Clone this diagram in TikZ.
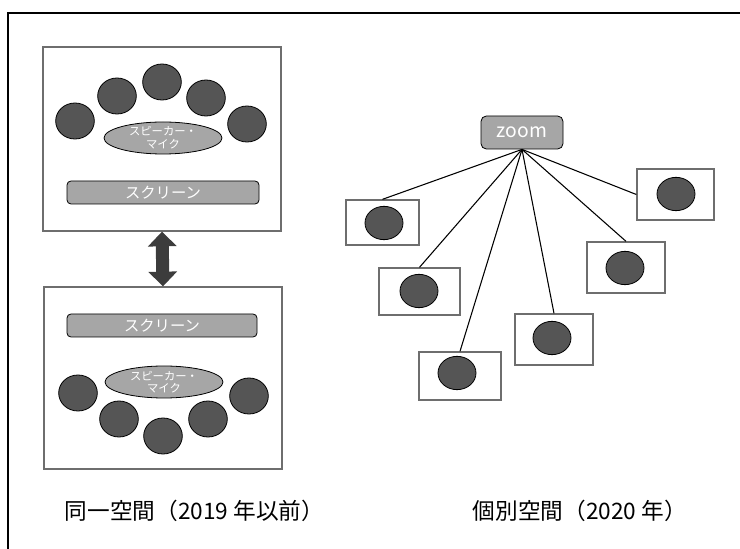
\documentclass[tikz,border=0pt]{standalone}
\usepackage{fontspec}
\setmainfont{Noto Sans CJK JP}
\usepackage{tikz}
\usetikzlibrary{arrows.meta,shapes.geometric}
\definecolor{seatgray}{RGB}{85,85,85}
\definecolor{propgray}{RGB}{166,166,166}
\definecolor{roomgray}{RGB}{110,110,110}
\definecolor{arrowgray}{RGB}{60,60,60}

\begin{document}
\begin{tikzpicture}[x=0.75pt,y=-0.75pt,
  room/.style={draw=roomgray, line width=1pt, inner sep=0pt},
  seat/.style={ellipse, draw=black, fill=seatgray, line width=0.6pt,
    minimum width=29pt, minimum height=27pt, inner sep=0pt},
  cam/.style={ellipse, draw=black, fill=seatgray, line width=0.6pt,
    minimum width=28.5pt, minimum height=25pt, inner sep=0pt},
  speaker/.style={ellipse, draw=black, fill=propgray, line width=0.6pt,
    minimum width=88.5pt, minimum height=24pt, inner sep=0pt,
    text=white, font=\fontsize{8.5}{9.5}\selectfont, align=center},
  screen/.style={draw=black, fill=propgray, rounded corners=3pt, line width=0.6pt,
    minimum height=17.25pt, inner sep=0pt, text=white, font=\fontsize{11.5}{13}\selectfont},
  label/.style={anchor=west, font=\fontsize{17}{19}\selectfont}]
\useasboundingbox (0,0) rectangle (740,549);
\draw[line width=1.1pt] (8,549) -- (8,13) -- (740,13);

% same room
\node[room, minimum width=178.5pt, minimum height=138pt] (room1) at (162,139) {};
\node[seat] (s11) at (75,121) {};
\node[seat] (s12) at (117,96) {};
\node[seat] (s13) at (162,82) {};
\node[seat] (s14) at (206,98) {};
\node[seat] (s15) at (247,124) {};
\node[speaker] (spk1) at (163,138) {スピーカー・\\マイク};
\node[screen, minimum width=144pt] (scr1) at (163,192.5) {スクリーン};

\node[room, minimum width=178.5pt, minimum height=136.5pt] (room2) at (163,378) {};
\node[screen, minimum width=142.5pt] (scr2) at (162,325.5) {スクリーン};
\node[speaker] (spk2) at (164,382) {スピーカー・\\マイク};
\node[seat] (s21) at (78,393) {};
\node[seat] (s22) at (119,419) {};
\node[seat] (s23) at (163,436) {};
\node[seat] (s24) at (208,419) {};
\node[seat] (s25) at (249,396) {};

\draw[line width=9.75pt, arrowgray, {Triangle[width=21pt,length=11pt]}-{Triangle[width=21pt,length=11pt]}]
  (room1.south) -- (room2.north);

% separate rooms
\node[draw=black, fill=propgray, rounded corners=4pt, line width=0.6pt,
  minimum width=61.5pt, minimum height=24.75pt, inner sep=0pt, text=white,
  font=\fontsize{14.5}{16}\selectfont] (zoom) at (522,132.5) {zoom};

\node[room, minimum width=54.75pt, minimum height=33.75pt] (b1) at (382.5,222.5) {};
\node[room, minimum width=60.75pt, minimum height=35.25pt] (b2) at (419.5,291.5) {};
\node[room, minimum width=61.5pt, minimum height=36pt] (b3) at (460,376) {};
\node[room, minimum width=58.5pt, minimum height=38.25pt] (b4) at (554,339.5) {};
\node[room, minimum width=58.5pt, minimum height=38.25pt] (b5) at (626,267.5) {};
\node[room, minimum width=57.75pt, minimum height=38.25pt] (b6) at (675.5,194.5) {};
\node[cam] (c1) at (384,223) {};
\node[cam] (c2) at (419,291) {};
\node[cam] (c3) at (457,373) {};
\node[cam] (c4) at (552,338) {};
\node[cam] (c5) at (625,268) {};
\node[cam] (c6) at (676,194) {};

\draw[line width=0.8pt] (zoom.south) -- (b1.north);
\draw[line width=0.8pt] (zoom.south) -- (b2.north);
\draw[line width=0.8pt] (zoom.south) -- (b3.north);
\draw[line width=0.8pt] (zoom.south) -- (b4.north);
\draw[line width=0.8pt] (zoom.south) -- (b5.north);
\draw[line width=0.8pt] (zoom.south) -- (b6.west);

\node[label] (same) at (60,511) {同一空間（2019 年以前）};
\node[label] (apart) at (468,511) {個別空間（2020 年）};
\end{tikzpicture}
\end{document}
